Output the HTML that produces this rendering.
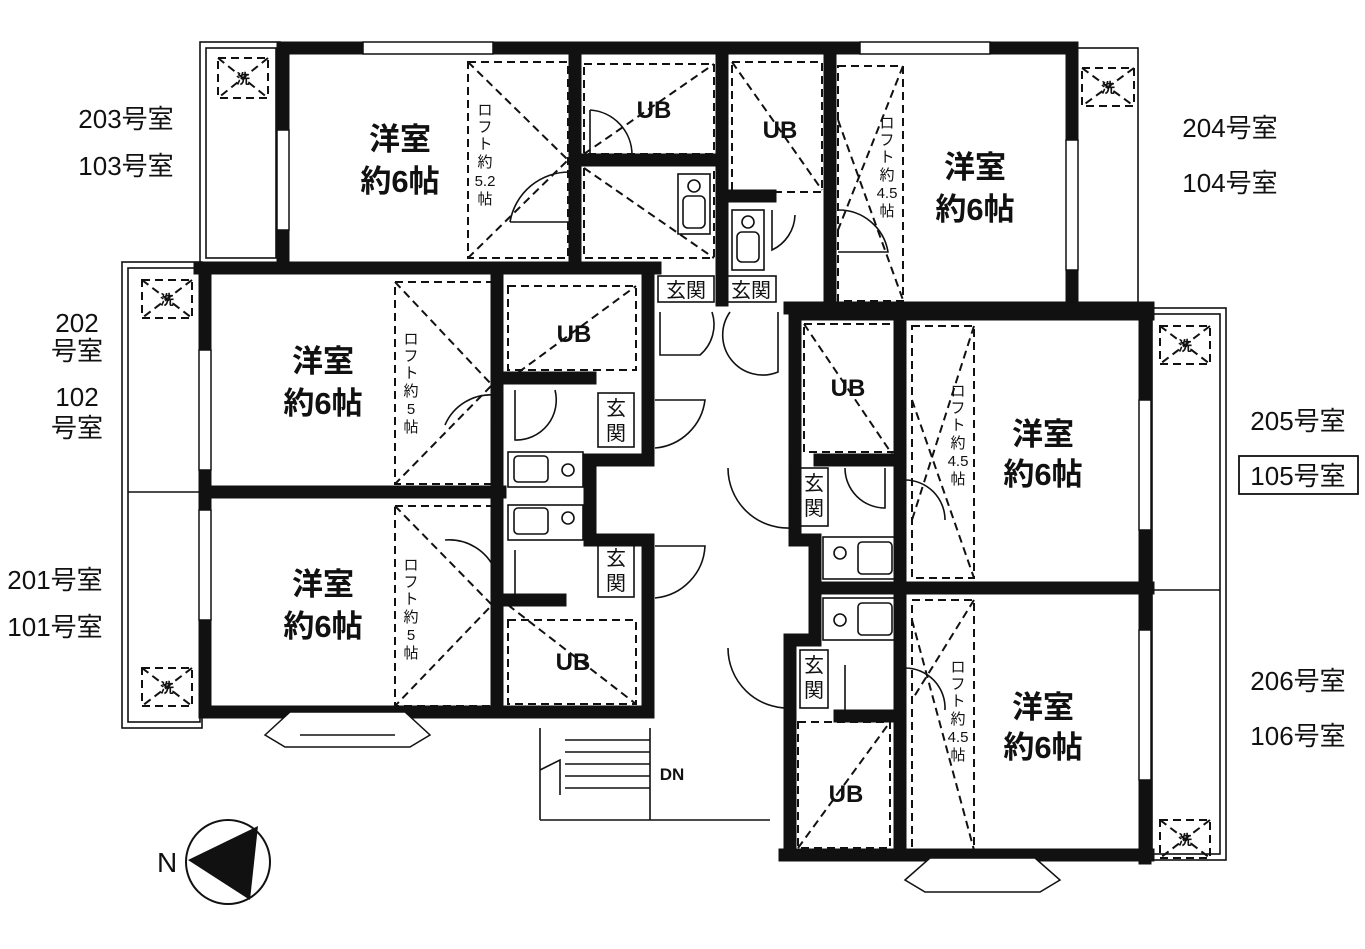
<!DOCTYPE html>
<html><head><meta charset="utf-8"><style>
html,body{margin:0;padding:0;background:#fff;}
svg{display:block;}
text{font-family:"Liberation Sans","Noto Sans CJK JP",sans-serif;fill:#111;}
.w{stroke:#111;stroke-width:13;fill:none;stroke-linecap:square;}
.t{stroke:#111;stroke-width:1.6;fill:none;}
.d{stroke:#111;stroke-width:2;fill:none;stroke-dasharray:8 5;}
.rm{font-size:31px;font-weight:bold;text-anchor:middle;}
.lb{font-size:26px;text-anchor:middle;}
.ub{font-size:24px;font-weight:bold;text-anchor:middle;}
.gk{font-size:20px;text-anchor:middle;}
.lf{font-size:15px;text-anchor:middle;}
</style></head><body>
<svg width="1365" height="949" viewBox="0 0 1365 949" xmlns="http://www.w3.org/2000/svg">
<!-- balconies (thin) -->
<rect class="t" x="200" y="42" width="80" height="222"/>
<rect class="t" x="206" y="48" width="70" height="210"/>
<rect class="t" x="1072" y="48" width="66" height="260"/>
<rect class="t" x="122" y="262" width="80" height="466"/>
<rect class="t" x="128" y="268" width="72" height="454"/>
<line class="t" x1="128" y1="492" x2="200" y2="492"/>
<rect class="t" x="1146" y="308" width="80" height="552"/>
<rect class="t" x="1152" y="314" width="68" height="540"/>
<line class="t" x1="1152" y1="590" x2="1220" y2="590"/>
<!-- washer boxes -->
<g class="d">
<rect x="218" y="58" width="50" height="40"/><path d="M218 58L268 98M268 58L218 98"/>
<rect x="1082" y="68" width="52" height="38"/><path d="M1082 68L1134 106M1134 68L1082 106"/>
<rect x="142" y="280" width="50" height="38"/><path d="M142 280L192 318M192 280L142 318"/>
<rect x="142" y="668" width="50" height="38"/><path d="M142 668L192 706M192 668L142 706"/>
<rect x="1160" y="326" width="50" height="38"/><path d="M1160 326L1210 364M1210 326L1160 364"/>
<rect x="1160" y="820" width="50" height="38"/><path d="M1160 820L1210 858M1210 820L1160 858"/>
</g>
<g font-size="14" font-weight="bold" text-anchor="middle">
<text x="243" y="84">洗</text><text x="1108" y="93">洗</text><text x="167" y="305">洗</text>
<text x="167" y="693">洗</text><text x="1185" y="351">洗</text><text x="1185" y="845">洗</text>
</g>
<!-- top block walls -->
<path class="w" d="M283 48H1072M283 48V264M575 48V264M722 48V300M830 48V300M1072 48V308M582 160H722M730 196H770M790 308H1148"/>
<!-- windows top -->
<rect x="363" y="42" width="130" height="12" fill="#fff" stroke="#111" stroke-width="1.5"/>
<rect x="860" y="42" width="130" height="12" fill="#fff" stroke="#111" stroke-width="1.5"/>
<rect x="277" y="130" width="12" height="100" fill="#fff" stroke="#111" stroke-width="1.5"/>
<rect x="1066" y="140" width="12" height="130" fill="#fff" stroke="#111" stroke-width="1.5"/>
<!-- middle-left walls -->
<path class="w" d="M200 268H655M205 268V712M205 492H500M205 712H640M497 268V712M505 378H590M505 600H560M648 268V460M590 460H648M590 460V540M590 540H648M648 540V712M640 712H640"/>
<rect x="199" y="350" width="12" height="120" fill="#fff" stroke="#111" stroke-width="1.5"/>
<rect x="199" y="510" width="12" height="110" fill="#fff" stroke="#111" stroke-width="1.5"/>
<path d="M265 735L290 712H405L430 735L410 747H285Z" fill="#fff" stroke="#111" stroke-width="1.5"/>
<line class="t" x1="300" y1="735" x2="395" y2="735"/>
<!-- stairs -->
<g class="t"><path d="M540 728V820M650 728V820M540 820H770M565 740H650M565 752H650M565 764H650M565 776H650M565 788H650"/><path d="M540 770L560 760V795"/></g>
<text x="672" y="780" font-size="17" font-weight="bold" text-anchor="middle">DN</text>
<!-- right block walls -->
<path class="w" d="M795 314H1148M795 314V540M795 540H815M815 540V640M790 640H815M790 640V852M900 314V852M1145 314V858M820 588H1148M785 855H1148M820 460H900M840 716H900"/>
<rect x="1139" y="400" width="12" height="130" fill="#fff" stroke="#111" stroke-width="1.5"/>
<rect x="1139" y="630" width="12" height="150" fill="#fff" stroke="#111" stroke-width="1.5"/>
<path d="M905 880L930 858H1035L1060 880L1040 892H925Z" fill="#fff" stroke="#111" stroke-width="1.5"/>
<!-- lofts / UB dashed -->
<g class="d">
<rect x="468" y="62" width="100" height="196"/><path d="M468 62L568 160M468 258L568 160"/>
<rect x="584" y="64" width="130" height="90"/><path d="M584 154L714 64"/>
<path d="M584 168V258H714V168M584 168L714 258"/>
<rect x="732" y="62" width="90" height="130"/><path d="M732 62L822 190"/>
<rect x="838" y="66" width="65" height="235"/><path d="M903 66L838 230M838 120L903 300"/>
<rect x="395" y="282" width="97" height="202"/><path d="M395 282L492 385L395 484"/>
<rect x="508" y="286" width="128" height="84"/><path d="M508 380L636 286"/>
<rect x="395" y="506" width="97" height="200"/><path d="M395 506L492 605L395 706"/>
<rect x="508" y="620" width="128" height="84"/><path d="M508 605L636 704"/>
<rect x="804" y="324" width="92" height="128"/><path d="M804 324L896 460"/>
<rect x="912" y="326" width="62" height="252"/><path d="M974 326L912 520M912 400L974 578"/>
<rect x="798" y="722" width="92" height="126"/><path d="M798 848L890 722"/>
<rect x="912" y="600" width="62" height="250"/><path d="M974 600L912 700M912 620L974 850"/>
</g>
<!-- fixtures -->
<g class="t">
<rect x="678" y="174" width="32" height="60"/><rect x="683" y="196" width="22" height="32" rx="5"/><circle cx="694" cy="186" r="6"/>
<rect x="732" y="210" width="32" height="60"/><rect x="737" y="232" width="22" height="30" rx="5"/><circle cx="748" cy="222" r="6"/>
<rect x="508" y="452" width="75" height="35"/><rect x="514" y="456" width="34" height="26" rx="4"/><circle cx="568" cy="470" r="6"/>
<rect x="508" y="505" width="75" height="35"/><rect x="514" y="508" width="34" height="26" rx="4"/><circle cx="568" cy="518" r="6"/>
<rect x="823" y="537" width="75" height="42"/><rect x="858" y="542" width="34" height="32" rx="4"/><circle cx="840" cy="553" r="6"/>
<rect x="823" y="598" width="75" height="42"/><rect x="858" y="603" width="34" height="32" rx="4"/><circle cx="840" cy="620" r="6"/>
<!-- doors -->
<path d="M510 222A60 60 0 0 1 570 172M570 172V230M510 222H570"/>
<path d="M590 110V155M590 110A45 45 0 0 1 632 155"/>
<path d="M795 215A40 40 0 0 1 772 250V210"/>
<path d="M838 210A50 50 0 0 1 888 252H838"/>
<path d="M660 312V355H700A40 40 0 0 0 712 312"/>
<path d="M730 312A40 40 0 0 0 778 372V312"/>
<path d="M445 425A50 50 0 0 1 495 395V425"/>
<path d="M515 390V440A40 40 0 0 0 555 390"/>
<path d="M655 400H705A55 55 0 0 1 655 448"/>
<path d="M445 540A50 50 0 0 1 495 570"/>
<path d="M515 550V600A40 40 0 0 1 555 600"/>
<path d="M655 546H705A55 55 0 0 1 655 598"/>
<path d="M728 468A60 60 0 0 0 790 528V468"/>
<path d="M845 468A40 40 0 0 0 885 508V468"/>
<path d="M905 480A40 40 0 0 1 945 520"/>
<path d="M728 648A60 60 0 0 0 790 708V648"/>
<path d="M845 665V715H885"/>
<path d="M905 668A40 40 0 0 1 945 710"/>
<rect x="658" y="276" width="56" height="26"/><rect x="726" y="276" width="50" height="26"/>
<rect x="598" y="393" width="36" height="54"/><rect x="598" y="543" width="36" height="54"/>
<rect x="800" y="468" width="28" height="58"/><rect x="800" y="650" width="28" height="58"/>
</g>
<g class="gk">
<text x="686" y="297">玄関</text><text x="751" y="297">玄関</text>
<text x="616" y="415">玄</text><text x="616" y="440">関</text>
<text x="616" y="565">玄</text><text x="616" y="590">関</text>
<text x="814" y="490">玄</text><text x="814" y="515">関</text>
<text x="814" y="672">玄</text><text x="814" y="697">関</text>
</g>
<!-- loft labels -->
<g class="lf">
<text x="485" y="115">ロ</text><text x="485" y="132">フ</text><text x="485" y="149">ト</text><text x="485" y="167">約</text><text x="485" y="186">5.2</text><text x="485" y="204">帖</text>
<text x="887" y="128">ロ</text><text x="887" y="145">フ</text><text x="887" y="162">ト</text><text x="887" y="180">約</text><text x="887" y="198">4.5</text><text x="887" y="216">帖</text>
<text x="411" y="344">ロ</text><text x="411" y="361">フ</text><text x="411" y="378">ト</text><text x="411" y="396">約</text><text x="411" y="414">5</text><text x="411" y="432">帖</text>
<text x="411" y="570">ロ</text><text x="411" y="587">フ</text><text x="411" y="604">ト</text><text x="411" y="622">約</text><text x="411" y="640">5</text><text x="411" y="658">帖</text>
<text x="958" y="396">ロ</text><text x="958" y="413">フ</text><text x="958" y="430">ト</text><text x="958" y="448">約</text><text x="958" y="466">4.5</text><text x="958" y="484">帖</text>
<text x="958" y="672">ロ</text><text x="958" y="689">フ</text><text x="958" y="706">ト</text><text x="958" y="724">約</text><text x="958" y="742">4.5</text><text x="958" y="760">帖</text>
</g>
<g class="ub"><text x="654" y="118">UB</text><text x="780" y="138">UB</text><text x="574" y="342">UB</text><text x="848" y="396">UB</text><text x="573" y="670">UB</text><text x="846" y="802">UB</text></g>
<g class="rm">
<text x="400" y="150">洋室</text><text x="400" y="192">約6帖</text>
<text x="975" y="178">洋室</text><text x="975" y="220">約6帖</text>
<text x="323" y="372">洋室</text><text x="323" y="414">約6帖</text>
<text x="323" y="595">洋室</text><text x="323" y="637">約6帖</text>
<text x="1043" y="445">洋室</text><text x="1043" y="485">約6帖</text>
<text x="1043" y="718">洋室</text><text x="1043" y="758">約6帖</text>
</g>
<g class="lb">
<text x="126" y="128">203号室</text><text x="126" y="175">103号室</text>
<text x="77" y="332">202</text><text x="77" y="360">号室</text><text x="77" y="406">102</text><text x="77" y="437">号室</text>
<text x="55" y="589">201号室</text><text x="55" y="636">101号室</text>
<text x="1230" y="137">204号室</text><text x="1230" y="192">104号室</text>
<text x="1298" y="430">205号室</text><text x="1298" y="485">105号室</text>
<text x="1298" y="690">206号室</text><text x="1298" y="745">106号室</text>
</g>
<rect x="1239" y="456" width="119" height="38" fill="none" stroke="#111" stroke-width="1.8"/>
<!-- compass -->
<circle cx="228" cy="862" r="42" fill="none" stroke="#111" stroke-width="2"/>
<path d="M188 860L258 826L250 900Z" fill="#111"/>
<text x="157" y="872" font-size="28">N</text>
</svg>
</body></html>
